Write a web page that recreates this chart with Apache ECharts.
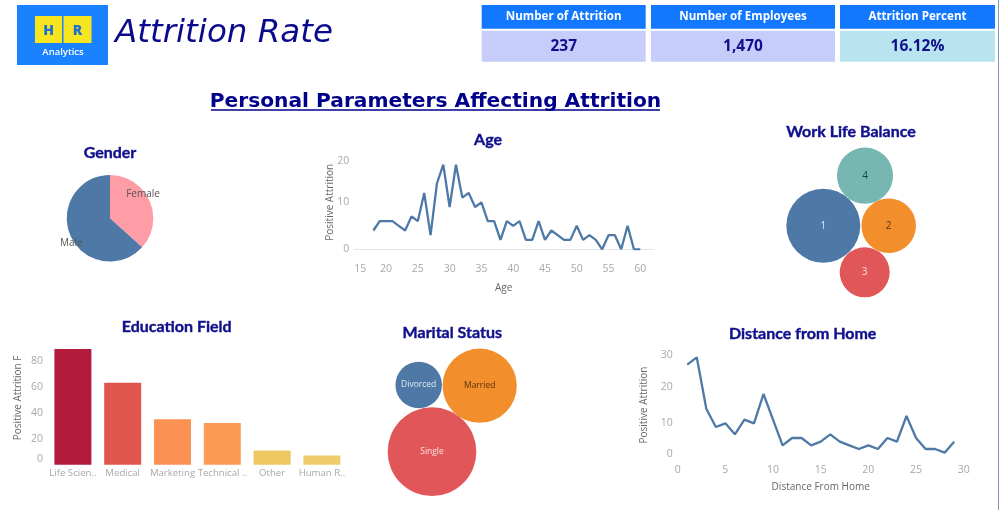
<!DOCTYPE html>
<html>
<head>
<meta charset="utf-8">
<title>Attrition Rate</title>
<script src="https://cdn.jsdelivr.net/npm/echarts@6/dist/echarts.min.js"></script>
<style>
  html, body { margin: 0; padding: 0; background: #fff; }
  #chart { width: 1000px; height: 510px; }
</style>
</head>
<body>
<div id="chart"></div>
<script>
// KPI strip
const kpiNames = ["Number of Attrition", "Number of Employees", "Attrition Percent"];
const kpiValues = ["237", "1,470", "16.12%"];

// gender pie
const genderNames = ["Female", "Male"];
const genderValues = [87, 150];

// age line
const ageValues = [[18,4],[19,6],[20,6],[21,6],[22,5],[23,4],[24,7],[25,6],[26,12],[27,3],[28,14],[29,18],[30,9],[31,18],[32,11],[33,12],[34,9],[35,10],[36,6],[37,6],[38,2],[39,6],[40,5],[41,6],[42,2],[43,2],[44,6],[45,2],[46,4],[47,3],[48,2],[49,2],[50,5],[51,2],[52,3],[53,2],[54,0],[55,3],[56,3],[57,0],[58,5],[59,0],[60,0]];

// distance line
const distanceValues = [[1,26],[2,28],[3,14],[4,9],[5,10],[6,7],[7,11],[8,10],[9,18],[10,11],[11,4],[12,6],[13,6],[14,4],[15,5],[16,7],[17,5],[18,4],[19,3],[20,4],[21,3],[22,6],[23,5],[24,12],[25,6],[26,3],[27,3],[28,2],[29,5]];

// education bars
const fieldNames = ["Life Scien..", "Medical", "Marketing", "Technical ..", "Other", "Human R.."];
const fieldValues = [89, 63, 35, 32, 11, 7];

// bubbles
const balanceNames = ["1", "2", "3", "4"];
const balanceValues = [92, 50, 42, 53];
const maritalNames = ["Divorced", "Married", "Single"];
const maritalValues = [33, 84, 120];

// ---------- style ----------
const NAVY = "#10108c";
const LINE = "#4e79a7";
const FONT = '"Open Sans", sans-serif';
const tick = { color: "#a8a8a8", fontSize: 10.5, fontFamily: FONT };
const axisTitle = { color: "#666", fontSize: 10, fontFamily: FONT };
const fieldColors = ["#b31b3c", "#e0564d", "#fb9152", "#fd9a53", "#eec760", "#f0cd6a"];
const balanceColors = ["#4e79a7", "#f28e2b", "#e15759", "#76b7b2"];
const balanceLabels = ["#dfe8f2", "#5a3310", "#fbe0e0", "#1f3f3d"];
const maritalColors = ["#4e79a7", "#f28e2b", "#e15759"];
const maritalLabels = ["#dfe8f2", "#5a3310", "#fbe0e0"];

// packed bubble layout, page pixels
const balanceCenters = [[823.3, 225.7], [888.7, 225.7], [864.7, 272.3], [865, 175.7]];
const maritalCenters = [[418.7, 385], [479.7, 385.7], [432, 451.7]];

function bubbleSeries(names, values, centers, colors, labels, k, size) {
  return {
    type: "scatter", xAxisIndex: 3, yAxisIndex: 3, silent: true,
    data: values.map((v, i) => ({
      value: [centers[i][0], centers[i][1], v],
      name: names[i],
      symbolSize: 2 * k * Math.sqrt(v),
      itemStyle: { color: colors[i], opacity: 1 },
      label: { show: true, position: "inside", formatter: names[i], color: labels[i], fontSize: size, fontFamily: FONT }
    }))
  };
}

function chartTitle(text, x, y) {
  return { text, left: x, top: y, textAlign: "center", textVerticalAlign: "middle", padding: 0,
    textStyle: { color: NAVY, fontSize: 16, fontWeight: 700, fontFamily: "Lato, sans-serif",
      textBorderColor: NAVY, textBorderWidth: 0.4 } };
}

function valueX(grid, min, max, name, gap) {
  return { type: "value", gridIndex: grid, min, max, interval: 5, name, nameLocation: "middle", nameGap: gap,
    nameMoveOverlap: false, nameTextStyle: axisTitle, splitLine: { show: false }, axisTick: { show: false },
    axisLine: { show: true, lineStyle: { color: "#e3e3e3", type: "dotted" } },
    axisLabel: { ...tick, margin: 14 } };
}

function valueY(grid, max, interval, name, gap, extra) {
  return { type: "value", gridIndex: grid, min: 0, max, interval, name, nameLocation: "middle", nameGap: gap,
    nameMoveOverlap: false, nameTextStyle: axisTitle, splitLine: { show: false }, axisTick: { show: false }, axisLine: { show: false },
    axisLabel: { ...tick, margin: 5, ...extra } };
}

// ---------- header blocks ----------
const kpiBoxes = [[481.7, 164], [651, 184], [840, 155]];
const kpiFills = ["#c6cdfb", "#c6cdfb", "#b8e4ef"];
const header = [];
kpiNames.forEach((n, i) => {
  const [x, w] = kpiBoxes[i];
  header.push({ type: "rect", shape: { x, y: 5, width: w, height: 23.7 }, style: { fill: "#1278ff" } });
  header.push({ type: "rect", shape: { x, y: 30.7, width: w, height: 31 }, style: { fill: kpiFills[i] } });
  header.push({ type: "text", x: x + w / 2, y: 17, style: { text: n, fill: "#fff", font: "700 11.6px " + FONT, align: "center", verticalAlign: "middle" } });
  header.push({ type: "text", x: x + w / 2, y: 47, style: { text: kpiValues[i], fill: NAVY, font: "700 15.5px " + FONT, align: "center", verticalAlign: "middle" } });
});

const logo = [
  { type: "rect", shape: { x: 17, y: 5, width: 91, height: 60 }, style: { fill: "#1a82ff" } },
  { type: "rect", shape: { x: 35, y: 16, width: 27, height: 27 }, style: { fill: "#f7e61f" } },
  { type: "rect", shape: { x: 63.5, y: 16, width: 28, height: 27 }, style: { fill: "#f7e61f" } },
  { type: "text", x: 48.5, y: 31, style: { text: "H", fill: "#1f6fd0", font: "900 14px " + FONT, align: "center", verticalAlign: "middle" } },
  { type: "text", x: 77.5, y: 31, style: { text: "R", fill: "#1f6fd0", font: "900 14px " + FONT, align: "center", verticalAlign: "middle" } },
  { type: "text", x: 63, y: 52, style: { text: "Analytics", fill: "#fff", font: "600 9.5px " + FONT, align: "center", verticalAlign: "middle" } },
  { type: "text", x: 115, y: 34, style: { text: "Attrition Rate", fill: "#0a0a8c", font: 'italic 400 32.5px "DejaVu Sans", sans-serif', align: "left", verticalAlign: "middle" } },
  { type: "text", x: 435.5, y: 101.5, style: { text: "Personal Parameters Affecting Attrition", fill: "#00008b", font: '700 20.2px "DejaVu Sans", sans-serif', align: "center", verticalAlign: "middle" } },
  { type: "line", shape: { x1: 211, y1: 110, x2: 660, y2: 110 }, style: { stroke: "#00008b", lineWidth: 1.5 } },
  { type: "line", shape: { x1: 998.5, y1: 0, x2: 998.5, y2: 510 }, style: { stroke: "#7f97b0", lineWidth: 1 } }
];

// ---------- chart ----------
const chart = echarts.init(document.getElementById("chart"));
chart.setOption({
  backgroundColor: "#fff",
  animation: false,
  title: [
    chartTitle("Gender", 110, 153),
    chartTitle("Age", 488, 140),
    chartTitle("Work Life Balance", 851, 131.5),
    chartTitle("Education Field", 176.7, 326.5),
    chartTitle("Marital Status", 452.3, 332.5),
    chartTitle("Distance from Home", 802.7, 334)
  ],
  graphic: { elements: [...logo, ...header] },
  grid: [
    { left: 354.3, top: 155.3, width: 298.7, height: 94 },
    { left: 677.7, top: 350, width: 286, height: 110 },
    { left: 48, top: 349, width: 298.8, height: 115.7 },
    { left: 0, top: 0, width: 1000, height: 510 }
  ],
  xAxis: [
    { ...valueX(0, 15, 62, "Age", 33.5), axisLabel: { ...tick, margin: 14, showMaxLabel: false, alignMinLabel: "left" } },
    { ...valueX(1, 0, 30, "Distance From Home", 22), axisLine: { show: false }, axisLabel: { ...tick, margin: 5 } },
    { type: "category", gridIndex: 2, data: fieldNames, axisTick: { show: false }, axisLine: { show: false },
      axisLabel: { ...tick, fontSize: 9.6, interval: 0, margin: 4 } },
    { type: "value", gridIndex: 3, min: 0, max: 1000, show: false }
  ],
  yAxis: [
    valueY(0, 20, 10, "Positive Attrition", 19, { verticalAlignMaxLabel: "top" }),
    valueY(1, 30, 10, "Positive Attrition", 29, { verticalAlignMaxLabel: "top", verticalAlignMinLabel: "bottom" }),
    { ...valueY(2, 89, 20, "Positive Attrition F", 25, { verticalAlignMinLabel: "bottom",
        formatter: (v) => (v % 20 === 0 ? String(v) : "") }),
      nameTextStyle: { ...axisTitle, padding: [0, 0, 0, 18] } },
    { type: "value", gridIndex: 3, min: 0, max: 510, inverse: true, show: false }
  ],
  series: [
    {
      type: "pie", center: [110, 218.3], radius: [0, 43.3], startAngle: 90, silent: true,
      color: ["#ff9da7", LINE],
      data: genderNames.map((name, i) => ({ name, value: genderValues[i] })),
      label: { show: true, position: "inside", formatter: "{b}", color: "#555", fontSize: 10, fontFamily: FONT },
      labelLine: { show: false },
      labelLayout: (p) => (p.dataIndex === 0 ? { x: 143, y: 194, align: "center" } : { x: 71.3, y: 242.7, align: "center" })
    },
    { type: "line", xAxisIndex: 0, yAxisIndex: 0, data: ageValues, showSymbol: false, silent: true,
      lineStyle: { color: LINE, width: 2.3 } },
    { type: "line", xAxisIndex: 1, yAxisIndex: 1, data: distanceValues, showSymbol: false, silent: true,
      lineStyle: { color: LINE, width: 2.3 } },
    { type: "bar", xAxisIndex: 2, yAxisIndex: 2, barWidth: 37, silent: true,
      data: fieldValues.map((value, i) => ({ value, itemStyle: { color: fieldColors[i] } })) },
    bubbleSeries(balanceNames, balanceValues, balanceCenters, balanceColors, balanceLabels, 3.857, 10),
    bubbleSeries(maritalNames, maritalValues, maritalCenters, maritalColors, maritalLabels, 4.05, 8.5)
  ]
});
</script>
</body>
</html>
